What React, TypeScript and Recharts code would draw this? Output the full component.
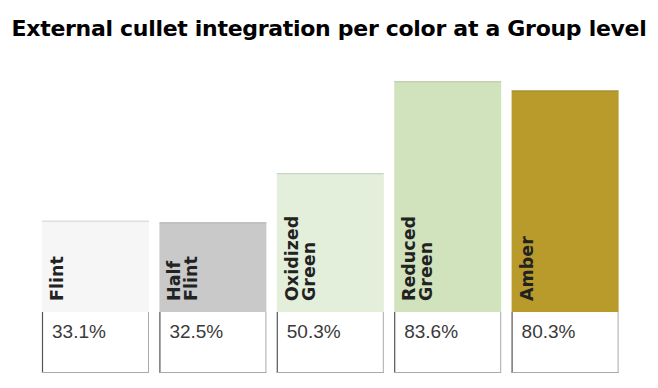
import { Bar, BarChart, XAxis, YAxis } from "recharts";

const categories = ["Flint", "Half Flint", "Oxidized Green", "Reduced Green", "Amber"];
const labelLines = [["Flint"], ["Half", "Flint"], ["Oxidized", "Green"], ["Reduced", "Green"], ["Amber"]];
const values = [33.1, 32.5, 50.3, 83.6, 80.3];
const valueLabels = ["33.1%", "32.5%", "50.3%", "83.6%", "80.3%"];
const colors = ["#f6f6f6", "#c9c9c9", "#e4efdb", "#d0e3bd", "#b89b2b"];

const chartData = categories.map((name, i) => ({
  name,
  value: values[i],
  lines: labelLines[i],
  pct: valueLabels[i],
  color: colors[i],
}));

const BOX_H = 61;

// bar + rotated name + the white value box under it
const BarWithBox = (props: any) => {
  const { x, y, width, height, payload } = props;
  const bottom = y + height;
  const lines: string[] = payload.lines;
  return (
    <g>
      <rect x={x} y={y} width={width} height={height} fill={payload.color} />
      <line x1={x} x2={x + width} y1={y + 0.5} y2={y + 0.5} stroke="#000" strokeOpacity={0.15} />
      {lines.map((t, j) => {
        const tx = x + 15 + j * 17;
        const ty = bottom - 11;
        return (
          <text
            key={t + j}
            x={tx}
            y={ty}
            transform={`rotate(-90 ${tx} ${ty})`}
            fontFamily="DejaVu Sans"
            fontWeight="bold"
            fontSize={17.5}
            fill="#222"
            dominantBaseline="central"
          >
            {t}
          </text>
        );
      })}
      <rect x={x} y={bottom} width={width} height={BOX_H} fill="#fff" />
      <line x1={x + 0.5} x2={x + 0.5} y1={bottom} y2={bottom + BOX_H} stroke="#555" strokeWidth={1.2} />
      <line x1={x + width - 0.5} x2={x + width - 0.5} y1={bottom} y2={bottom + BOX_H} stroke="#aaa" />
      <line x1={x} x2={x + width} y1={bottom + BOX_H - 0.5} y2={bottom + BOX_H - 0.5} stroke="#aaa" />
      <text
        x={x + 10}
        y={bottom + 26}
        fontFamily="Liberation Sans"
        fontSize={19}
        fill="#3a3a3a"
      >
        {payload.pct}
      </text>
    </g>
  );
};

export default function App() {
  return (
    <div style={{ position: "absolute", left: 0, top: 0, width: 658, height: 388, background: "#fff" }}>
      <div
        style={{
          position: "absolute",
          left: 0,
          top: 16,
          width: 658,
          textAlign: "center",
          fontFamily: "DejaVu Sans",
          fontWeight: "bold",
          fontSize: 22,
          color: "#000",
          letterSpacing: -0.3,
        }}
      >
        External cullet integration per color at a Group level
      </div>
      <BarChart
        width={658}
        height={388}
        data={chartData}
        margin={{ top: 36, right: 34, left: 37, bottom: 76 }}
        barCategoryGap={5}
      >
        <XAxis dataKey="name" hide />
        <YAxis domain={[0, 100]} hide />
        <Bar dataKey="value" shape={<BarWithBox />} isAnimationActive={false} />
      </BarChart>
    </div>
  );
}
